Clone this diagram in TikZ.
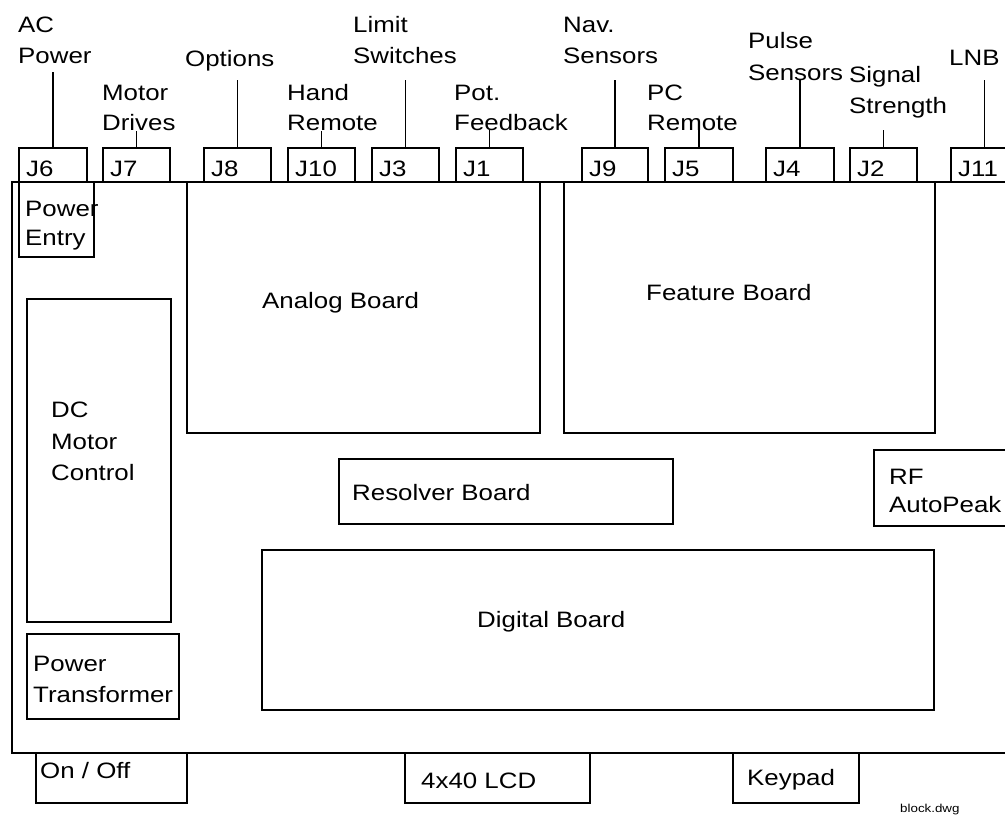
\documentclass[tikz,border=0pt]{standalone}
\usepackage{fontspec}
\setmainfont{Liberation Sans}[FakeStretch=1.16]
\newcommand\lblfont{\fontsize{22.3}{31}\selectfont}
\newcommand\smallfont{\fontsize{11.5}{13}\selectfont}
\tikzset{
  box/.style={draw, line width=1.5pt, inner sep=0pt, anchor=north west},
  t/.style={anchor=base west, inner sep=0pt, font=\lblfont},
  ln/.style={line width=1.5pt}
}
\begin{document}
\begin{tikzpicture}[x=1pt,y=-1pt]
\useasboundingbox (0,0) rectangle (1005,815);
\clip (0,0) rectangle (1005,815);
% chassis
\node[box, minimum width=1009pt, minimum height=571pt] (chassis) at (11,181) {};
% connectors
\node[box, minimum width=68pt, minimum height=34pt] (J6) at (18,147) {};
\node[box, minimum width=67pt, minimum height=34pt] (J7) at (102,147) {};
\node[box, minimum width=67pt, minimum height=34pt] (J8) at (203,147) {};
\node[box, minimum width=67pt, minimum height=34pt] (J10) at (287,147) {};
\node[box, minimum width=67pt, minimum height=34pt] (J3) at (371,147) {};
\node[box, minimum width=67pt, minimum height=34pt] (J1) at (455,147) {};
\node[box, minimum width=66pt, minimum height=34pt] (J9) at (581,147) {};
\node[box, minimum width=68pt, minimum height=34pt] (J5) at (664,147) {};
\node[box, minimum width=68pt, minimum height=34pt] (J4) at (765,147) {};
\node[box, minimum width=67pt, minimum height=34pt] (J2) at (849,147) {};
\node[box, minimum width=67pt, minimum height=34pt] (J11) at (950,147) {};
\node[t] (tJ6) at (26,176) {J6};
\node[t] (tJ7) at (110,176) {J7};
\node[t] (tJ8) at (211,176) {J8};
\node[t] (tJ10) at (295,176) {J10};
\node[t] (tJ3) at (379,176) {J3};
\node[t] (tJ1) at (463,176) {J1};
\node[t] (tJ9) at (589,176) {J9};
\node[t] (tJ5) at (672,176) {J5};
\node[t] (tJ4) at (773,176) {J4};
\node[t] (tJ2) at (857,176) {J2};
\node[t] (tJ11) at (958,176) {J11};
% connector labels
\node[t] (lAC1) at (18,32) {AC};
\node[t] (lAC2) at (18,63) {Power};
\node[t] (lOpt) at (185,66) {Options};
\node[t] (lMD1) at (102,100) {Motor};
\node[t] (lMD2) at (102,130) {Drives};
\node[t] (lHR1) at (287,100) {Hand};
\node[t] (lHR2) at (287,130) {Remote};
\node[t] (lLS1) at (353,32) {Limit};
\node[t] (lLS2) at (353,63) {Switches};
\node[t] (lPF1) at (454,100) {Pot.};
\node[t] (lPF2) at (454,130) {Feedback};
\node[t] (lNS1) at (563,32) {Nav.};
\node[t] (lNS2) at (563,63) {Sensors};
\node[t] (lPC1) at (647,100) {PC};
\node[t] (lPC2) at (647,130) {Remote};
\node[t] (lPS1) at (748,48) {Pulse};
\node[t] (lPS2) at (748,80) {Sensors};
\node[t] (lSS1) at (849,82) {Signal};
\node[t] (lSS2) at (849,113) {Strength};
\node[t] (lLNB) at (949,65) {LNB};
% leader lines
\draw[ln] (J6.north) -- ++(0,-75);
\draw[ln] (J8.north) -- ++(0,-67);
\draw[ln] (J7.north) -- ++(0,-16);
\draw[ln] (J10.north) -- ++(0,-16);
\draw[ln] (J3.north) -- ++(0,-67);
\draw[ln] (J1.north) -- ++(0,-17);
\draw[ln] (J9.north) -- ++(0,-67);
\draw[ln] (J5.north) -- ++(0,-17);
\draw[ln] (J4.north) -- ++(0,-67);
\draw[ln] (J2.north) -- ++(0,-17);
\draw[ln] (J11.north) -- ++(0,-67);
% internal boards
\node[box, minimum width=75pt, minimum height=75pt] (pentry) at (18,181) {};
\node[t] (tPE1) at (25,216) {Power};
\node[t] (tPE2) at (25,245) {Entry};
\node[box, minimum width=353pt, minimum height=251pt] (analog) at (186,181) {};
\node[t] (tAn) at (262,308) {Analog Board};
\node[box, minimum width=371pt, minimum height=251pt] (feature) at (563,181) {};
\node[t] (tFe) at (646,300) {Feature Board};
\node[box, minimum width=144pt, minimum height=323pt] (dcmotor) at (26,298) {};
\node[t] (tDC1) at (51,417) {DC};
\node[t] (tDC2) at (51,449) {Motor};
\node[t] (tDC3) at (51,480) {Control};
\node[box, minimum width=334pt, minimum height=65pt] (resolver) at (338,458) {};
\node[t] (tRes) at (352,500) {Resolver Board};
\node[box, minimum width=142pt, minimum height=76pt] (rf) at (873,449) {};
\node[t] (tRF1) at (889,484) {RF};
\node[t] (tRF2) at (889,512) {AutoPeak};
\node[box, minimum width=672pt, minimum height=160pt] (digital) at (261,549) {};
\node[t] (tDig) at (477,627) {Digital Board};
\node[box, minimum width=152pt, minimum height=85pt] (ptrans) at (26,633) {};
\node[t] (tPT1) at (33,671) {Power};
\node[t] (tPT2) at (33,702) {Transformer};
% external controls
\node[box, minimum width=151pt, minimum height=50pt] (onoff) at (35,752) {};
\node[t] (tOO) at (40,778) {On / Off};
\node[box, minimum width=185pt, minimum height=50pt] (lcd) at (404,752) {};
\node[t] (tLCD) at (421,788) {4x40 LCD};
\node[box, minimum width=126pt, minimum height=50pt] (keypad) at (732,752) {};
\node[t] (tKey) at (747,785) {Keypad};
\node[anchor=base west, inner sep=0pt, font=\smallfont] (dwg) at (900,812) {block.dwg};
\end{tikzpicture}
\end{document}
